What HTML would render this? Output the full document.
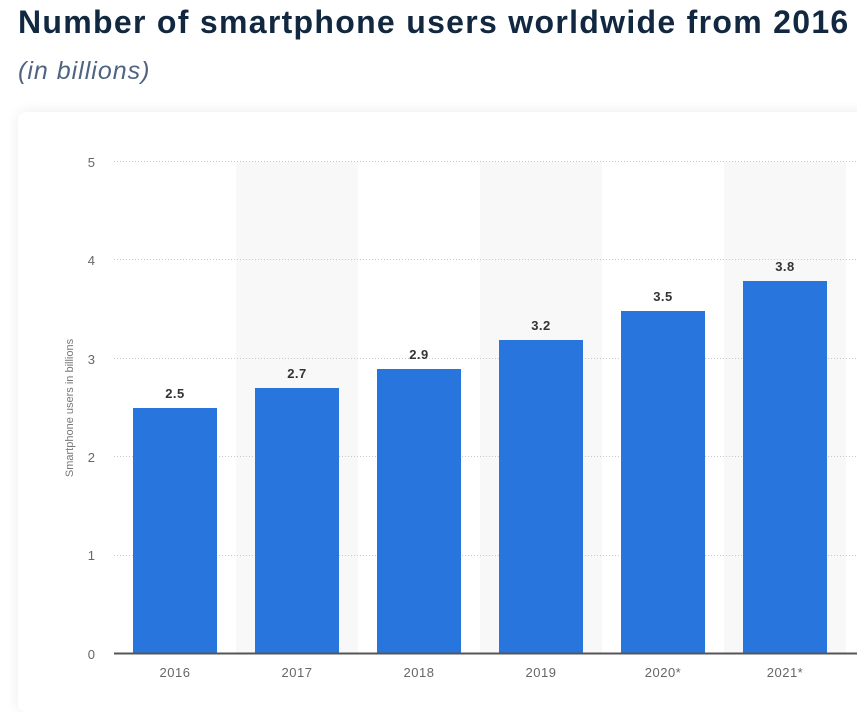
<!DOCTYPE html>
<html><head><style>
body{margin:0;width:857px;height:686px;overflow:hidden;background:#fff;font-family:"Liberation Sans",sans-serif;position:relative}
.t{position:absolute;left:18px;top:4px;font-size:32px;font-weight:bold;color:#112840;white-space:nowrap;letter-spacing:1.3px}
.s{position:absolute;left:18px;top:57px;font-size:25px;font-style:italic;color:#4f6480;letter-spacing:1px}
.card{position:absolute;left:18px;top:112px;width:860px;height:600px;background:#fff;border-radius:8px;box-shadow:0 0 14px rgba(0,20,60,0.08)}
</style></head><body>
<div class="t">Number of smartphone users worldwide from 2016</div>
<div class="s">(in billions)</div>
<div class="card"></div>
<svg style="position:absolute;left:0;top:0" width="857" height="686" font-family="Liberation Sans, sans-serif">
<g fill="#f8f8f8">
<rect x="236" y="162" width="122" height="492"/>
<rect x="480" y="162" width="122" height="492"/>
<rect x="724" y="162" width="122" height="492"/>
</g>
<g stroke="#c8c8c8" stroke-dasharray="1,2" stroke-width="1">
<line x1="114" x2="857" y1="161.5" y2="161.5"/>
<line x1="114" x2="857" y1="259.5" y2="259.5"/>
<line x1="114" x2="857" y1="358.5" y2="358.5"/>
<line x1="114" x2="857" y1="456.5" y2="456.5"/>
<line x1="114" x2="857" y1="555.5" y2="555.5"/>
</g>
<g fill="#666" font-size="13" text-anchor="end">
<text x="95" y="167">5</text><text x="95" y="265">4</text><text x="95" y="364">3</text>
<text x="95" y="462">2</text><text x="95" y="560">1</text><text x="95" y="659">0</text>
</g>
<text transform="translate(73,408) rotate(-90)" fill="#777" font-size="11" text-anchor="middle">Smartphone users in billions</text>
<g fill="#2876dd">
<rect x="133" y="408" width="84" height="246"/>
<rect x="255" y="388" width="84" height="266"/>
<rect x="377" y="369" width="84" height="285"/>
<rect x="499" y="340" width="84" height="314"/>
<rect x="621" y="311" width="84" height="343"/>
<rect x="743" y="281" width="84" height="373"/>
</g>
<line x1="114" x2="857" y1="653.5" y2="653.5" stroke="#555" stroke-width="2"/>
<g fill="#333" font-size="13" font-weight="bold" text-anchor="middle" letter-spacing="0.5">
<text x="175" y="398">2.5</text><text x="297" y="378">2.7</text><text x="419" y="359">2.9</text>
<text x="541" y="330">3.2</text><text x="663" y="301">3.5</text><text x="785" y="271">3.8</text>
</g>
<g fill="#666" font-size="13" text-anchor="middle" letter-spacing="0.5">
<text x="175" y="677">2016</text><text x="297" y="677">2017</text><text x="419" y="677">2018</text>
<text x="541" y="677">2019</text><text x="663" y="677">2020*</text><text x="785" y="677">2021*</text>
</g>
</svg>
</body></html>
